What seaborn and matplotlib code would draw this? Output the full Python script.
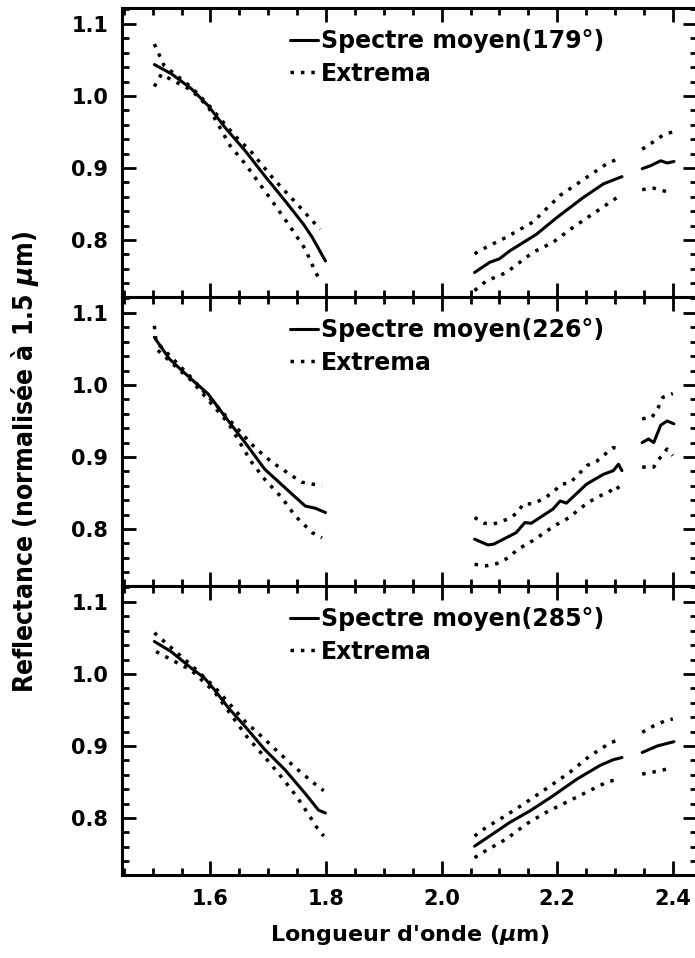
import numpy as np
import pandas as pd
import matplotlib
matplotlib.use('Agg')
import matplotlib.pyplot as plt
from matplotlib.lines import Line2D
from matplotlib.ticker import MultipleLocator
import seaborn as sns

nan = np.nan

# phase angles of the three panels
angles = ['179', '226', '285']

# panel 179 deg : mean spectrum and extrema (nan = gap between segments)
wl_179_mean = [1.503, 1.532, 1.567, 1.596, 1.625, 1.66, 1.694, 1.729, 1.761, 1.776, 1.799, nan,
               2.057, 2.083, 2.1, 2.118, 2.164, 2.199, 2.245, 2.28, 2.312, nan,
               2.347, 2.361, 2.379, 2.39, 2.402]
r_179_mean = [1.0435, 1.031, 1.010, 0.9865, 0.9565, 0.924, 0.889, 0.8546, 0.822, 0.804, 0.771, nan,
              0.755, 0.769, 0.774, 0.785, 0.808, 0.831, 0.859, 0.878, 0.888, nan,
              0.899, 0.903, 0.910, 0.907, 0.909]
wl_179_max = [1.503, 1.512, 1.52, 1.567, 1.596, 1.642, 1.671, 1.709, 1.75, 1.776, 1.79, nan,
              2.057, 2.077, 2.112, 2.158, 2.205, 2.251, 2.286, 2.303, nan,
              2.347, 2.364, 2.382, 2.399]
r_179_max = [1.072, 1.056, 1.042, 1.012, 0.988, 0.945, 0.922, 0.885, 0.85, 0.827, 0.815, nan,
             0.781, 0.79, 0.804, 0.825, 0.862, 0.887, 0.906, 0.912, nan,
             0.926, 0.935, 0.945, 0.950]
wl_179_min = [1.503, 1.515, 1.567, 1.596, 1.634, 1.66, 1.706, 1.741, 1.764, 1.781, 1.79, nan,
              2.057, 2.077, 2.112, 2.158, 2.193, 2.228, 2.274, 2.309, nan,
              2.347, 2.367, 2.39]
r_179_min = [1.013, 1.03, 1.008, 0.985, 0.931, 0.906, 0.855, 0.815, 0.7875, 0.757, 0.743, nan,
             0.73, 0.743, 0.755, 0.783, 0.797, 0.818, 0.843, 0.862, nan,
             0.87, 0.872, 0.867]

# panel 226 deg
wl_226_mean = [1.503, 1.529, 1.567, 1.596, 1.631, 1.66, 1.694, 1.735, 1.764, 1.781, 1.799, nan,
               2.057, 2.08, 2.09, 2.129, 2.144, 2.155, 2.193, 2.205, 2.216, 2.251, 2.28, 2.297, 2.306, 2.312, nan,
               2.347, 2.358, 2.367, 2.379, 2.39, 2.402]
r_226_mean = [1.066, 1.036, 1.008, 0.9875, 0.950, 0.920, 0.883, 0.853, 0.832, 0.829, 0.823, nan,
              0.786, 0.778, 0.779, 0.795, 0.809, 0.808, 0.828, 0.839, 0.836, 0.8625, 0.876, 0.881, 0.89, 0.881, nan,
              0.920, 0.925, 0.920, 0.944, 0.950, 0.946]
wl_226_max = [1.503, 1.506, 1.567, 1.631, 1.677, 1.706, 1.741, 1.758, 1.776, 1.793, nan,
              2.057, 2.074, 2.09, 2.115, 2.132, 2.141, 2.158, 2.176, 2.193, 2.207, 2.221, 2.237, 2.251,
              2.268, 2.283, 2.297, 2.312, nan,
              2.347, 2.364, 2.375, 2.383, 2.4]
r_226_max = [1.082, 1.06, 1.010, 0.953, 0.913, 0.893, 0.874, 0.865, 0.8625, 0.86, nan,
             0.816, 0.808, 0.807, 0.814, 0.823, 0.835, 0.835, 0.842, 0.851, 0.8625, 0.8635, 0.876, 0.888,
             0.894, 0.904, 0.913, 0.911, nan,
             0.953, 0.955, 0.969, 0.983, 0.988]
wl_226_min = [1.509, 1.567, 1.631, 1.671, 1.694, 1.723, 1.747, 1.776, 1.793, nan,
              2.057, 2.077, 2.095, 2.115, 2.132, 2.158, 2.178, 2.196, 2.221, 2.237, 2.254, 2.271, 2.289,
              2.303, 2.312, nan,
              2.347, 2.367, 2.379, 2.39, 2.4]
r_226_min = [1.048, 1.006, 0.947, 0.893, 0.869, 0.844, 0.818, 0.795, 0.788, nan,
             0.751, 0.749, 0.752, 0.76, 0.772, 0.784, 0.795, 0.805, 0.816, 0.827, 0.837, 0.845, 0.851,
             0.86, 0.849, nan,
             0.886, 0.886, 0.9, 0.911, 0.902]

# panel 285 deg
wl_285_mean = [1.503, 1.532, 1.567, 1.59, 1.607, 1.631, 1.66, 1.694, 1.729, 1.764, 1.787, 1.799, nan,
               2.057, 2.083, 2.118, 2.153, 2.193, 2.234, 2.274, 2.297, 2.312, nan,
               2.347, 2.373, 2.402]
r_285_mean = [1.045, 1.031, 1.008, 0.994, 0.978, 0.953, 0.927, 0.895, 0.867, 0.834, 0.811, 0.807, nan,
              0.761, 0.775, 0.794, 0.810, 0.831, 0.854, 0.873, 0.881, 0.884, nan,
              0.891, 0.9, 0.906]
wl_285_max = [1.503, 1.567, 1.607, 1.66, 1.689, 1.718, 1.747, 1.778, 1.796, nan,
              2.057, 2.077, 2.106, 2.141, 2.176, 2.221, 2.256, 2.289, 2.306, nan,
              2.347, 2.367, 2.387, 2.4]
r_285_max = [1.057, 1.012, 0.982, 0.934, 0.913, 0.891, 0.87, 0.849, 0.838, nan,
             0.775, 0.787, 0.801, 0.819, 0.838, 0.863, 0.886, 0.903, 0.909, nan,
             0.919, 0.928, 0.935, 0.9375]
wl_285_min = [1.506, 1.567, 1.607, 1.663, 1.7, 1.726, 1.75, 1.773, 1.784, 1.796, nan,
              2.057, 2.077, 2.112, 2.147, 2.181, 2.216, 2.251, 2.286, 2.306, nan,
              2.347, 2.367, 2.39]
r_285_min = [1.031, 1.005, 0.975, 0.913, 0.879, 0.854, 0.829, 0.801, 0.787, 0.775, nan,
             0.745, 0.755, 0.771, 0.792, 0.808, 0.822, 0.836, 0.85, 0.854, nan,
             0.861, 0.864, 0.868]

panels = [
    [(wl_179_mean, r_179_mean), (wl_179_max, r_179_max), (wl_179_min, r_179_min)],
    [(wl_226_mean, r_226_mean), (wl_226_max, r_226_max), (wl_226_min, r_226_min)],
    [(wl_285_mean, r_285_mean), (wl_285_max, r_285_max), (wl_285_min, r_285_min)],
]

sns.set_style('ticks')
plt.rcParams['font.family'] = ['DejaVu Sans']
plt.rcParams['font.weight'] = 'bold'
plt.rcParams['mathtext.default'] = 'it'
plt.rcParams['text.color'] = 'black'
plt.rcParams['xtick.color'] = 'black'
plt.rcParams['ytick.color'] = 'black'
plt.rcParams['axes.labelcolor'] = 'black'

dotted = (0, (1, 2.0))

fig = plt.figure(figsize=(6.95, 9.58), dpi=100)
left, right = 122 / 695, 1.003
h = 289 / 958
bottom0 = 83 / 958

def split_segments(x, y):
    df = pd.DataFrame({'wl': x, 'r': y})
    df['seg'] = df['wl'].isna().cumsum()
    return [g.dropna() for _, g in df.groupby('seg')]

axes = []
for i in range(3):
    ax = fig.add_axes([left, bottom0 + (2 - i) * h, right - left, h])
    axes.append(ax)
    for k, (x, y) in enumerate(panels[i]):
        for g in split_segments(x, y):
            sns.lineplot(data=g, x='wl', y='r', ax=ax, color='black', sort=False,
                         estimator=None, lw=2.2 if k == 0 else 2.5,
                         linestyle='-' if k == 0 else dotted)
    ax.set_xlim(1.447, 2.442)
    ax.set_ylim(0.721, 1.122)
    ax.xaxis.set_major_locator(MultipleLocator(0.2))
    ax.xaxis.set_minor_locator(MultipleLocator(0.05))
    ax.yaxis.set_major_locator(MultipleLocator(0.1))
    ax.yaxis.set_minor_locator(MultipleLocator(0.02))
    ax.tick_params(which='both', direction='in', top=True, right=True, width=2, color='black')
    ax.tick_params(which='major', length=10)
    ax.tick_params(which='minor', length=5)
    ax.tick_params(axis='y', labelsize=15, pad=10, labelcolor='black')
    ax.tick_params(axis='x', labelsize=15, pad=10, labelcolor='black')
    ax.yaxis.set_major_formatter(plt.FuncFormatter(lambda v, p: f'{v:.1f}'))
    ax.xaxis.set_major_formatter(plt.FuncFormatter(lambda v, p: f'{v:.1f}'))
    for lab in ax.get_xticklabels() + ax.get_yticklabels():
        lab.set_fontweight('bold')
    for s in ax.spines.values():
        s.set_linewidth(2.2)
        s.set_color('black')
    ax.set_xlabel('')
    ax.set_ylabel('')
    if i < 2:
        ax.tick_params(axis='x', labelbottom=False)

    handles = [Line2D([], [], color='black', lw=2.2),
               Line2D([], [], color='black', lw=2.5, linestyle=dotted)]
    labels = [f'Spectre moyen({angles[i]}°)', 'Extrema']
    ax.legend(handles, labels, loc='upper left', bbox_to_anchor=(0.255, 1.0),
              frameon=False, handlelength=1.2, handletextpad=0.12, labelspacing=0.35,
              prop={'size': 17, 'weight': 'bold'})

axes[2].set_xlabel("Longueur d'onde ($\\mu$m)", fontsize=16,
                   fontweight='bold', labelpad=10, color='black')
fig.text(0.036, 0.518, r'Reflectance (normalisée à 1.5 $\mu$m)', rotation=90,
         ha='center', va='center', fontsize=19, fontweight='bold',
         fontstretch='condensed', color='black')

fig.savefig('out.png', dpi=100)
